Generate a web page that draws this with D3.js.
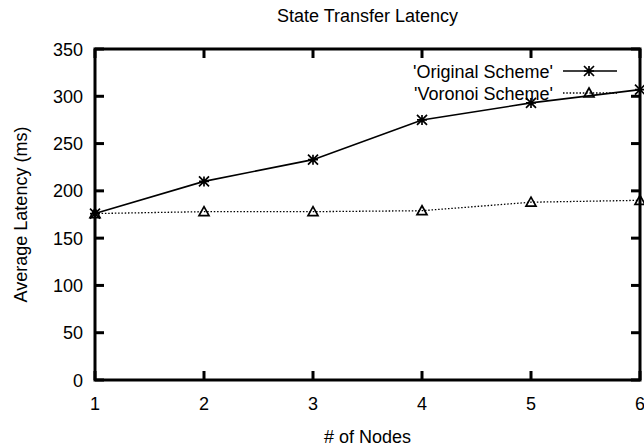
<!DOCTYPE html>
<meta charset="utf-8">
<style>
body { margin: 0; background: #fff; }
text { font-family: "Liberation Sans", Arial, sans-serif; font-size: 18px; fill: #000; }
.border { fill: none; stroke: #000; stroke-width: 3px; }
.tick-line { stroke: #000; stroke-width: 3px; }
</style>
<body>
<svg width="644" height="448"></svg>
<script src="https://d3js.org/d3.v7.min.js"></script>
<script>

var nodes = [1, 2, 3, 4, 5, 6];
var original = [176, 210, 233, 275, 293, 307];
var voronoi = [176, 178, 178, 179, 188, 190];
var yTicks = [0, 50, 100, 150, 200, 250, 300, 350];
var seriesNames = ["'Original Scheme'", "'Voronoi Scheme'"];

var margin = {top: 49, right: 4, bottom: 68, left: 95},
    width = 644 - margin.left - margin.right,
    height = 448 - margin.top - margin.bottom;

var svg = d3.select("svg");
var g = svg.append("g")
  .attr("transform", "translate(" + margin.left + "," + margin.top + ")");

var x = d3.scaleLinear().domain([1, 6]).range([0, width]);
var y = d3.scaleLinear().domain([0, 350]).range([height, 0]);

var tickLen = 9;

// inward ticks on all four sides, gnuplot style
nodes.forEach(function(n) {
  g.append("line").attr("class", "tick-line")
    .attr("x1", x(n)).attr("x2", x(n)).attr("y1", height).attr("y2", height - tickLen);
  g.append("line").attr("class", "tick-line")
    .attr("x1", x(n)).attr("x2", x(n)).attr("y1", 0).attr("y2", tickLen);
  g.append("text")
    .attr("x", x(n)).attr("y", height + 30)
    .attr("text-anchor", "middle")
    .text(n);
});

yTicks.forEach(function(t) {
  g.append("line").attr("class", "tick-line")
    .attr("x1", 0).attr("x2", tickLen).attr("y1", y(t)).attr("y2", y(t));
  g.append("line").attr("class", "tick-line")
    .attr("x1", width).attr("x2", width - tickLen).attr("y1", y(t)).attr("y2", y(t));
  g.append("text")
    .attr("x", -12).attr("y", y(t) + 6.5)
    .attr("text-anchor", "end")
    .text(t);
});

g.append("rect").attr("class", "border")
  .attr("width", width).attr("height", height);

var line = d3.line()
  .x(function(d, i) { return x(nodes[i]); })
  .y(function(d) { return y(d); });

g.append("path").datum(voronoi)
  .attr("d", line)
  .attr("fill", "none").attr("stroke", "#000")
  .attr("stroke-width", 1.3).attr("stroke-dasharray", "1.5,1.8");

g.append("path").datum(original)
  .attr("d", line)
  .attr("fill", "none").attr("stroke", "#000")
  .attr("stroke-width", 1.6);

function star(sel, cx, cy) {
  var r = 5;
  sel.append("path")
    .attr("d", "M" + (cx - r) + "," + cy + "H" + (cx + r) +
               "M" + cx + "," + (cy - r) + "V" + (cy + r) +
               "M" + (cx - r) + "," + (cy - r) + "L" + (cx + r) + "," + (cy + r) +
               "M" + (cx - r) + "," + (cy + r) + "L" + (cx + r) + "," + (cy - r))
    .attr("stroke", "#000").attr("stroke-width", 1.7).attr("fill", "none");
}

function tri(sel, cx, cy) {
  var r = 5;
  sel.append("path")
    .attr("d", "M" + cx + "," + (cy - r) + "L" + (cx + r) + "," + (cy + r * 0.8) +
               "L" + (cx - r) + "," + (cy + r * 0.8) + "Z")
    .attr("stroke", "#000").attr("stroke-width", 1.7).attr("fill", "none");
}

voronoi.forEach(function(v, i) { tri(g, x(nodes[i]), y(v)); });
original.forEach(function(v, i) { star(g, x(nodes[i]), y(v)); });

// legend
var legX = 458, legY = [22, 44];
var legend = g.append("g");
seriesNames.forEach(function(name, i) {
  legend.append("text")
    .attr("x", legX).attr("y", legY[i] + 6.5)
    .attr("text-anchor", "end")
    .text(name);
  var ln = legend.append("line")
    .attr("x1", legX + 10).attr("x2", legX + 64)
    .attr("y1", legY[i]).attr("y2", legY[i])
    .attr("stroke", "#000");
  if (i === 0) {
    ln.attr("stroke-width", 1.6);
    star(legend, legX + 36, legY[i]);
  } else {
    ln.attr("stroke-width", 1.3).attr("stroke-dasharray", "1.5,1.8");
    tri(legend, legX + 36, legY[i]);
  }
});

svg.append("text")
  .attr("x", margin.left + width / 2).attr("y", 22)
  .attr("text-anchor", "middle")
  .text("State Transfer Latency");

svg.append("text")
  .attr("x", margin.left + width / 2).attr("y", 443)
  .attr("text-anchor", "middle")
  .text("# of Nodes");

svg.append("text")
  .attr("transform", "translate(27," + (margin.top + height / 2) + ") rotate(-90)")
  .attr("text-anchor", "middle")
  .text("Average Latency (ms)");

</script>
</body>
